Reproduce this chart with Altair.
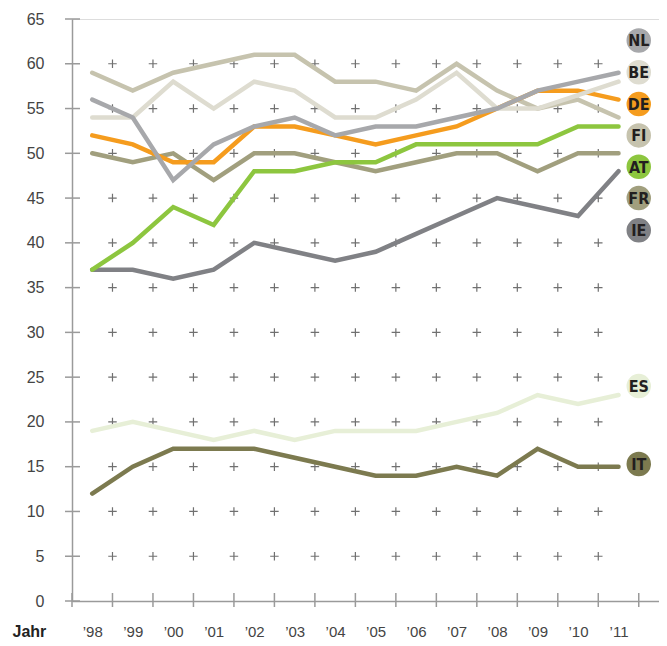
import altair as alt
import pandas as pd

years = list(range(1998, 2012))

NL = [56, 54, 47, 51, 53, 54, 52, 53, 53, 54, 55, 57, 58, 59]
BE = [54, 54, 58, 55, 58, 57, 54, 54, 56, 59, 55, 55, 56.5, 58]
DE = [52, 51, 49, 49, 53, 53, 52, 51, 52, 53, 55, 57, 57, 56]
FI = [59, 57, 59, 60, 61, 61, 58, 58, 57, 60, 57, 55, 56, 54]
AT = [37, 40, 44, 42, 48, 48, 49, 49, 51, 51, 51, 51, 53, 53]
FR = [50, 49, 50, 47, 50, 50, 49, 48, 49, 50, 50, 48, 50, 50]
IE = [37, 37, 36, 37, 40, 39, 38, 39, 41, 43, 45, 44, 43, 48]
ES = [19, 20, 19, 18, 19, 18, 19, 19, 19, 20, 21, 23, 22, 23]
IT = [12, 15, 17, 17, 17, 16, 15, 14, 14, 15, 14, 17, 15, 15]

series = {"ES": ES, "IT": IT, "IE": IE, "FR": FR, "AT": AT,
          "FI": FI, "DE": DE, "BE": BE, "NL": NL}
draw_order = ["ES", "IT", "IE", "FR", "AT", "FI", "DE", "BE", "NL"]

badge_names = ["NL", "BE", "DE", "FI", "AT", "FR", "IE", "ES", "IT"]
badge_y = [62.6, 59.05, 55.5, 52.0, 48.5, 45.0, 41.4, 24.0, 15.3]
badge_x = 2011.5

color_map = {
    "NL": "#a7a8ab", "BE": "#dedcd0", "DE": "#f59c1e", "FI": "#c6c3ae",
    "AT": "#8dc63f", "FR": "#a19f7e", "IE": "#808185", "ES": "#e7efd7",
    "IT": "#7c7a4f",
}

y_ticks = list(range(0, 70, 5))
x_bounds = [y + 0.5 for y in range(1997, 2012)]
grid_x = [y + 0.5 for y in range(1998, 2011)]
grid_y = list(range(5, 65, 5))

rows = []
for c in draw_order:
    for yr, v in zip(years, series[c]):
        rows.append({"country": c, "year": yr, "value": v})
df = pd.DataFrame(rows)

badges = pd.DataFrame({"country": badge_names, "y": badge_y,
                       "x": [badge_x] * len(badge_names)})
grid = pd.DataFrame([{"gx": gx, "gy": gy} for gx in grid_x for gy in grid_y])
yt = pd.DataFrame({"v": y_ticks})
xt = pd.DataFrame({"b": x_bounds})

W, H = 587, 582
xscale = alt.Scale(domain=[1997.5, 2012], nice=False, zero=False)
yscale = alt.Scale(domain=[0, 65], nice=False, zero=True)

dom = list(color_map.keys())
rng = [color_map[k] for k in dom]

xaxis = alt.Axis(values=years, ticks=False, tickSize=0, grid=False,
                 labelExpr="'\u2019' + slice(toString(datum.value), 2)",
                 labelFont="Liberation Sans", labelFontSize=15, labelColor="#444",
                 labelBaseline="middle", labelPadding=30,
                 domainColor="#9a9a9a", domainWidth=1.5,
                 title="Jahr", titleFont="Liberation Sans", titleFontSize=16,
                 titleFontWeight="bold", titleColor="#222", titleAngle=0,
                 titleX=-60, titleY=30, titleAlign="left", titleBaseline="middle")
yaxis = alt.Axis(values=y_ticks, ticks=False, tickSize=0, grid=False,
                 labelFont="Liberation Sans", labelFontSize=16, labelColor="#444",
                 labelPadding=28, domainColor="#9a9a9a", domainWidth=1.5,
                 title=None)

base_lines = alt.Chart(df).mark_line(strokeWidth=4.5, strokeCap="round").encode(
    x=alt.X("year:Q", scale=xscale, axis=xaxis),
    y=alt.Y("value:Q", scale=yscale, axis=yaxis),
    color=alt.Color("country:N", scale=alt.Scale(domain=dom, range=rng), legend=None),
    detail="country:N",
)

plus = alt.Chart(grid).mark_point(
    shape="M-1,0H1M0,-1V1", size=72, filled=False, color="#707070", strokeWidth=1.2,
    opacity=1,
).encode(
    x=alt.X("gx:Q", scale=xscale),
    y=alt.Y("gy:Q", scale=yscale),
)

ytick_marks = alt.Chart(yt).mark_rule(color="#9a9a9a", strokeWidth=1.5).encode(
    y=alt.Y("v:Q", scale=yscale),
    x=alt.value(-7), x2=alt.value(8),
)
xtick_marks = alt.Chart(xt).mark_rule(color="#9a9a9a", strokeWidth=1.5).encode(
    x=alt.X("b:Q", scale=xscale),
    y=alt.value(H - 8), y2=alt.value(H + 6),
)

circles = alt.Chart(badges).mark_circle(size=600, opacity=1).encode(
    x=alt.X("x:Q", scale=xscale),
    y=alt.Y("y:Q", scale=yscale),
    color=alt.Color("country:N", scale=alt.Scale(domain=dom, range=rng), legend=None),
)
labels = alt.Chart(badges).mark_text(
    font="DejaVu Sans Condensed", fontWeight="bold", fontSize=16, color="#231f20",
    align="center", baseline="middle", dy=1,
).encode(
    x=alt.X("x:Q", scale=xscale),
    y=alt.Y("y:Q", scale=yscale),
    text="country:N",
)

chart = alt.layer(plus, base_lines, ytick_marks, xtick_marks, circles, labels).properties(
    width=W, height=H,
    autosize=alt.AutoSizeParams(type="none"),
    padding={"left": 64, "top": 11, "right": 0, "bottom": 40},
).configure_view(stroke="#c4c4c4", strokeWidth=1.5).configure(background="white")

chart.save("out.html", embed_options={"renderer": "svg", "actions": False})
